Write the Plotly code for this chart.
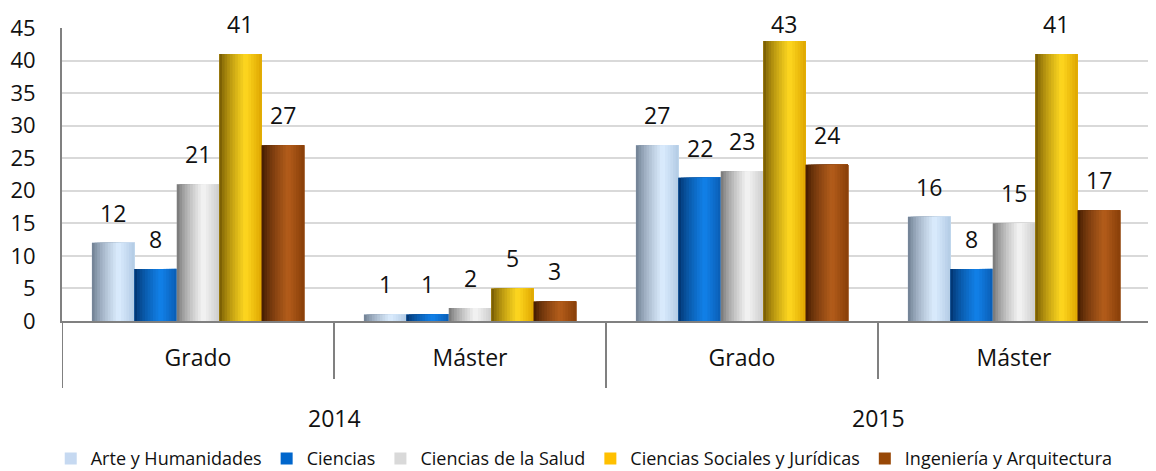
import plotly.graph_objects as go

# categories
years = ["2014", "2014", "2015", "2015"]
levels = ["Grado", "Máster", "Grado", "Máster"]

series_names = ["Arte y Humanidades", "Ciencias", "Ciencias de la Salud",
                "Ciencias Sociales y Jurídicas", "Ingeniería y Arquitectura"]
arte = [12, 1, 27, 16]
ciencias = [8, 1, 22, 8]
salud = [21, 2, 23, 15]
sociales = [41, 5, 43, 41]
ingenieria = [27, 3, 24, 17]
series_values = [arte, ciencias, salud, sociales, ingenieria]

y_ticks = list(range(0, 50, 5))
Y_MAX = 45

# base colour, then cylinder shading: left edge, highlight, right edge
colors = ["#c6d9f1", "#0066cc", "#d9d9d9", "#ffc000", "#984807"]
shades = [
    ("#667689", "#dcedff", "#b3cbe4"),
    ("#002e66", "#1282ea", "#0a5db4"),
    ("#6c6c6c", "#f5f5f5", "#cdcdcd"),
    ("#6a4f00", "#ffd820", "#dea600"),
    ("#3a1700", "#b45d1b", "#883e08"),
]

FONT = "Open Sans"
N_STRIPS = 16
BAR_W = 0.156
GROUP_W = BAR_W * len(series_names)

# figure geometry (the page body adds an 8px margin, so the figure is sized to fit the window)
W, H = 1148, 463
M_L, M_R, M_T, M_B = 54, 6, 20, 150
PX_PER_UNIT = (H - M_T - M_B) / Y_MAX
LABEL_BOX = 33


def hex2rgb(h):
    h = h.lstrip("#")
    return [int(h[i:i + 2], 16) for i in (0, 2, 4)]


def mix(a, b, t):
    a, b = hex2rgb(a), hex2rgb(b)
    return "rgb(%d,%d,%d)" % tuple(round(a[i] + (b[i] - a[i]) * t) for i in range(3))


def shade(stops, t):
    left, mid, right = stops
    if t < 0.62:
        return mix(left, mid, (t / 0.62) ** 0.7)
    return mix(mid, right, (t - 0.62) / 0.38)


xpos = list(range(len(levels)))

fig = go.Figure()

for k, (name, vals) in enumerate(zip(series_names, series_values)):
    off = -GROUP_W / 2 + k * BAR_W
    fig.add_trace(go.Bar(
        x=xpos, y=vals, name=name, width=BAR_W, offset=off,
        marker=dict(color=colors[k], line=dict(width=0)),
        hoverinfo="skip",
    ))
    sw = BAR_W / N_STRIPS
    for s in range(N_STRIPS):
        # each strip runs to the right edge so that the next one covers the seam
        fig.add_trace(go.Bar(
            x=xpos, y=vals, width=BAR_W - s * sw, offset=off + s * sw,
            marker=dict(color=shade(shades[k], (s + 0.5) / N_STRIPS), line=dict(width=0)),
            showlegend=False, hoverinfo="skip",
        ))
    for i, v in zip(xpos, vals):
        # labels near the top are pulled down so they stay inside the figure
        room = M_T + (Y_MAX - v) * PX_PER_UNIT - LABEL_BOX
        fig.add_annotation(
            x=i + off + BAR_W / 2, y=v, text=str(v), showarrow=False,
            yanchor="bottom", yshift=max(-6, min(13, room)), borderpad=0,
            font=dict(family=FONT, size=23, color="#111111"),
        )

# category dividers and year labels below the axis
n = len(levels)
for b in range(n + 1):
    outer = b == 0 or b == n or years[b - 1] != years[b]
    fig.add_shape(type="line", xref="x", yref="paper",
                  x0=b - 0.5, x1=b - 0.5, y0=0, y1=-0.229 if outer else -0.198,
                  line=dict(color="#808080", width=2))

for yr in dict.fromkeys(years):
    idx = [i for i, y in enumerate(years) if y == yr]
    fig.add_annotation(
        x=sum(idx) / len(idx), y=-0.33, xref="x", yref="paper", text=yr,
        showarrow=False, yanchor="middle", font=dict(family=FONT, size=23, color="#111111"),
    )

fig.update_layout(
    width=W, height=H,
    margin=dict(l=M_L, r=M_R, t=M_T, b=M_B, autoexpand=False),
    barmode="overlay",
    plot_bgcolor="white", paper_bgcolor="white",
    font=dict(family=FONT, color="#111111"),
    legend=dict(orientation="h", x=0.48, xanchor="center", y=-0.47, yanchor="middle",
                font=dict(family=FONT, size=18, color="#111111"),
                itemwidth=30, tracegroupgap=0),
    xaxis=dict(
        range=[-0.5, n - 0.5], tickvals=xpos, ticktext=levels,
        showgrid=False, zeroline=False, ticks="", showline=True,
        linecolor="#808080", linewidth=2, automargin=False,
        tickfont=dict(family=FONT, size=23, color="#111111"),
        ticklabelstandoff=15,
    ),
    yaxis=dict(
        range=[0, Y_MAX], tickvals=y_ticks, showgrid=True, gridcolor="#d9d9d9", gridwidth=2,
        zeroline=False, showline=True, linecolor="#808080", linewidth=2,
        ticks="", automargin=False, tickfont=dict(family=FONT, size=22, color="#111111"),
        ticklabelstandoff=20,
    ),
)

fig.write_html("out.html")
